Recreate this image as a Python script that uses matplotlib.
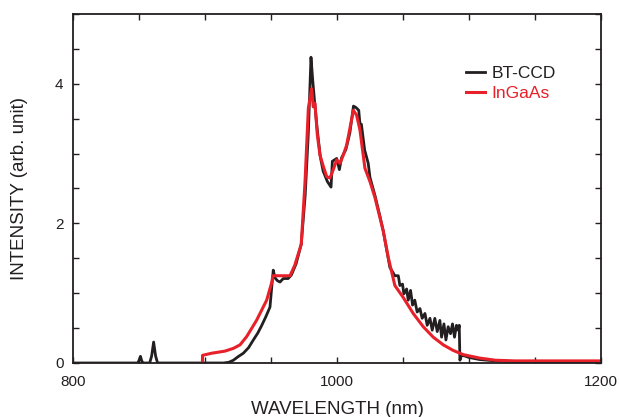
import matplotlib
matplotlib.use("Agg")
import matplotlib.pyplot as plt
from matplotlib.ticker import MultipleLocator, FixedLocator

plt.rcParams['font.family'] = ['Liberation Sans', 'DejaVu Sans']

# BT-CCD spectrum
ccd_nm = [800, 849, 850, 851, 852, 853, 858, 859.5, 861, 862.5, 864, 914, 918, 921.5, 925,
          929, 933, 936.6, 940, 943, 946, 949.2, 951.7, 953, 954.8, 956.8, 959.3, 963, 965.4,
          969, 972.9, 975.9, 978.3, 980.3, 981.7, 983, 985, 987.4, 989.5, 992.7, 995.5, 996.5,
          999.8, 1001.8, 1003.5, 1006.8, 1009.8, 1012.5, 1014.4, 1016.5, 1017.4, 1018.5, 1021,
          1023.7, 1025, 1028.8, 1032.6, 1035.1, 1040.1, 1043.9, 1046.5, 1047.7, 1049.7, 1050.7,
          1052.8, 1054, 1055.8, 1057.3, 1059, 1060.8, 1062.9, 1064.6, 1066.7, 1068.4, 1070.5,
          1072.2, 1074.2, 1076, 1078, 1079.3, 1081.1, 1082.6, 1084.3, 1086.1, 1087.6, 1089.1,
          1090.6, 1091.9, 1092.7, 1093.2, 1094.4, 1097, 1100, 1108, 1120, 1135, 1200]
ccd_val = [0, 0, 0.04, 0.095, 0.03, 0, 0, 0.10, 0.30, 0.10, 0, 0, 0.01, 0.04, 0.09,
           0.14, 0.22, 0.33, 0.43, 0.54, 0.66, 0.80, 1.33, 1.22, 1.18, 1.16, 1.21, 1.21, 1.26,
           1.42, 1.70, 2.40, 3.30, 4.38, 4.03, 3.75, 3.35, 2.95, 2.75, 2.60, 2.52, 2.89,
           2.93, 2.77, 2.94, 3.06, 3.30, 3.68, 3.66, 3.62, 3.43, 3.42, 3.05,
           2.86, 2.66, 2.40, 2.10, 1.89, 1.37, 1.25, 1.25, 1.11, 1.13, 0.99,
           1.06, 0.90, 1.04, 0.83, 0.90, 0.73, 0.78, 0.64, 0.71, 0.54, 0.64,
           0.47, 0.64, 0.45, 0.61, 0.37, 0.56, 0.33, 0.52, 0.42, 0.56, 0.37,
           0.54, 0.47, 0.54, 0.04, 0.11, 0.10, 0.08, 0.05, 0.03, 0.02, 0.02]

# InGaAs spectrum
ingaas_nm = [898, 898.1, 905, 915, 921.5, 926.5, 931.6, 939, 946.7, 950.5, 951.5, 964.4,
             968, 972.9, 975.8, 978.3, 980.8, 982, 983.3, 985.1, 987.1, 989.6, 992.2, 994.7,
             997.2, 999.8, 1002.3, 1004.8, 1007.3, 1009.8, 1012.4, 1014.9, 1017.4, 1021.2,
             1025, 1028.8, 1032.6, 1035.1, 1038.9, 1043.9, 1050.2, 1057.8, 1065.4, 1073,
             1080.6, 1088.1, 1095.7, 1108.3, 1120, 1135, 1200]
ingaas_val = [0.02, 0.11, 0.14, 0.17, 0.21, 0.26, 0.38, 0.61, 0.90, 1.15, 1.25, 1.25,
              1.40, 1.70, 2.60, 3.65, 3.93, 3.67, 3.72, 3.27, 2.98, 2.82, 2.67, 2.65,
              2.77, 2.91, 2.86, 2.98, 3.12, 3.36, 3.62, 3.55, 3.34, 2.79,
              2.60, 2.37, 2.08, 1.89, 1.51, 1.11, 0.94, 0.71, 0.52, 0.37,
              0.26, 0.18, 0.12, 0.07, 0.04, 0.03, 0.03]

x_ticks = [800, 1000, 1200]
y_ticks = [0, 2, 4]

fig = plt.figure(figsize=(6.2, 4.17), dpi=100)
ax = fig.add_axes([0.118, 0.1295, 0.851, 0.837])

ax.plot(ccd_nm, ccd_val, color='#231f20', lw=2.0, label='BT-CCD')
ax.plot(ingaas_nm, ingaas_val, color='#e8202a', lw=2.2, label='InGaAs')

ax.set_xlim(800, 1200)
ax.set_ylim(0, 5)
ax.xaxis.set_major_locator(FixedLocator(x_ticks))
ax.yaxis.set_major_locator(FixedLocator(y_ticks))
ax.xaxis.set_minor_locator(MultipleLocator(50))
ax.yaxis.set_minor_locator(MultipleLocator(0.5))
ax.tick_params(which='both', direction='in', top=True, right=True, length=4.5,
               width=1.0, color='#231f20', labelsize=11, labelcolor='#231f20')
ax.tick_params(axis='x', pad=9)
ax.tick_params(axis='y', pad=7)
for s in ax.spines.values():
    s.set_linewidth(1.3)
    s.set_color('#231f20')

ax.set_xlabel('WAVELENGTH (nm)', fontsize=13.5, color='#231f20')
ax.set_ylabel('INTENSITY (arb. unit)', fontsize=13.5, color='#231f20')
ax.xaxis.set_label_coords(0.5, -0.108)
ax.yaxis.set_label_coords(-0.085, 0.5)

leg = ax.legend(loc='upper left', bbox_to_anchor=(0.732, 0.872), frameon=False,
                fontsize=12.5, handlelength=1.1, handletextpad=0.35, labelspacing=0.3,
                borderaxespad=0)
for t, c in zip(leg.get_texts(), ['#231f20', '#e8202a']):
    t.set_color(c)

fig.savefig('out.png', dpi=100)
